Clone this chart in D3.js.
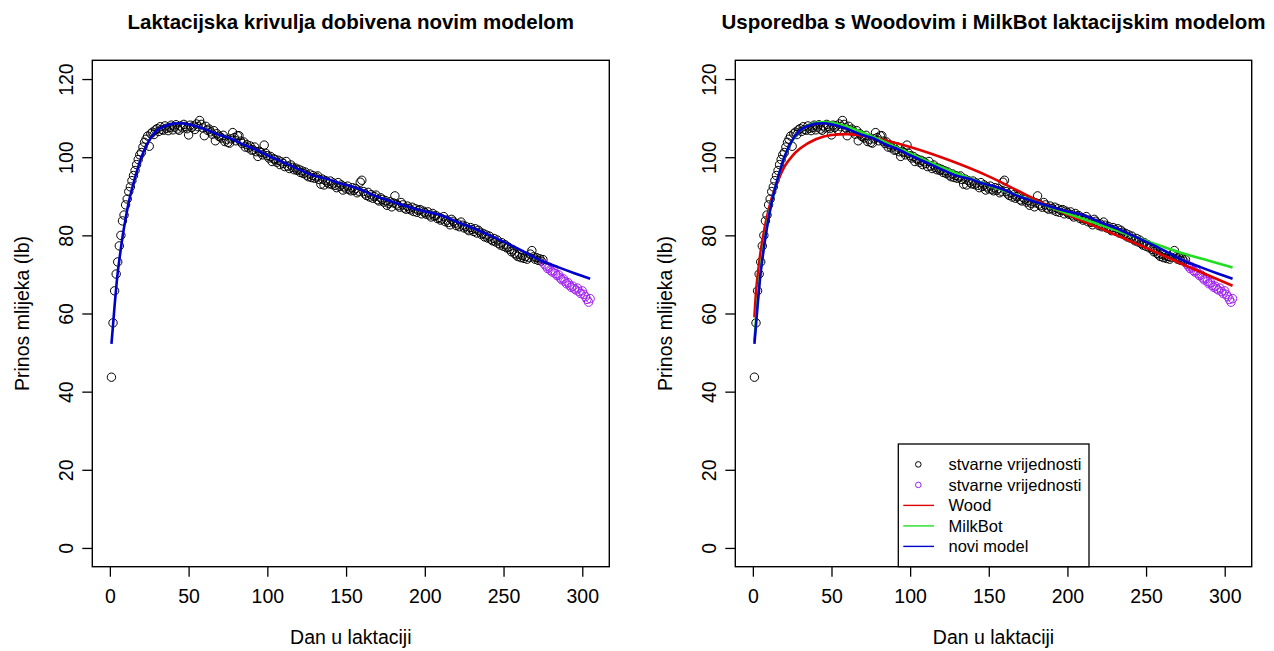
<!DOCTYPE html>
<html><head><meta charset="utf-8">
<script src="https://cdn.jsdelivr.net/npm/d3@7"></script>
<style>body{margin:0;background:#fff}svg{display:block}text{font-family:"Liberation Sans",Arial,sans-serif;fill:#000}</style>
</head><body>
<svg id="c" width="1274" height="651"></svg>
<script>
// ---------- DATA ----------
const titles = ["Laktacijska krivulja dobivena novim modelom", "Usporedba s Woodovim i MilkBot laktacijskim modelom"];
const xLabel = "Dan u laktaciji";
const yLabel = "Prinos mlijeka (lb)";
const xTicks = [0, 50, 100, 150, 200, 250, 300];
const yTicks = [0, 20, 40, 60, 80, 100, 120];
// observed daily yields (days 1..275) - black points
const obsBlack = [
 43.7,57.6,65.8,70.1,73.2,77.3,80.0,83.7,85.2,87.8,
 89.3,91.2,92.4,94.0,95.3,96.6,98.1,99.4,100.6,101.2,
 102.6,103.8,104.6,105.4,102.8,106.0,106.4,105.8,107.0,107.3,
 106.6,107.8,107.1,106.9,108.0,107.4,106.8,107.6,108.2,107.0,
 107.7,108.3,107.2,106.9,108.0,107.5,108.4,107.9,107.3,105.7,
 108.2,107.6,108.0,107.1,108.5,107.8,109.4,108.4,107.5,105.5,
 107.9,106.9,107.2,106.5,105.9,106.8,104.2,106.0,105.4,105.2,
 104.9,105.6,104.0,104.6,103.8,103.6,104.7,106.3,105.0,104.2,
 105.5,105.5,104.1,103.5,103.9,102.6,103.2,102.4,102.9,101.8,
 101.9,102.6,101.4,100.2,101.5,101.2,100.6,103.1,101.0,100.4,
 99.8,100.2,98.9,99.6,99.4,98.7,99.2,98.1,98.8,98.4,
 97.6,98.9,97.7,97.1,98.0,97.4,96.8,97.2,96.6,96.9,
 96.1,96.5,95.8,96.2,95.4,95.0,95.7,94.8,95.3,94.6,
 94.9,95.2,94.3,93.1,94.4,92.9,94.0,93.6,93.2,93.9,
 93.0,93.4,92.8,92.2,93.5,92.5,92.9,91.6,92.4,91.9,
 92.6,91.8,91.4,92.2,91.5,92.0,90.9,91.3,93.6,94.1,
 91.2,90.6,90.2,91.0,89.8,90.4,89.5,89.9,90.3,89.1,
 88.8,89.6,89.2,88.5,88.9,87.7,88.2,88.6,87.3,88.3,
 90.1,88.0,87.6,87.2,88.4,87.8,87.0,86.7,87.5,86.9,
 86.5,87.2,86.1,86.8,85.9,86.4,86.6,85.5,86.2,85.8,
 85.4,86.0,85.2,84.7,85.6,84.9,85.1,84.3,84.6,83.9,
 84.2,84.8,83.5,83.9,83.3,82.7,84.1,83.6,83.1,82.5,
 82.9,82.2,83.4,82.6,81.9,82.3,81.6,81.2,82.0,81.5,
 81.0,81.7,80.6,81.3,80.8,80.2,80.5,79.6,80.1,79.3,
 79.8,79.0,78.6,79.2,78.3,78.8,77.9,77.5,78.1,77.2,
 77.6,76.8,77.0,76.4,75.8,76.3,75.4,75.0,74.6,75.2,
 74.3,74.8,74.1,74.6,73.9,74.4,75.2,76.1,74.5,73.9,
 74.3,73.6,74.0,73.4,73.8];
// observed daily yields (days 276..305) - purple points
const obsPurpleStart = 276;
const obsPurple = [72.6,72.1,71.5,71.9,71.0,70.6,70.9,70.2,69.7,69.9,
 69.1,68.6,68.9,68.2,67.6,67.9,67.2,66.7,67.0,66.3,
 66.0,66.5,65.6,65.1,65.8,64.9,64.3,63.6,62.9,63.8];
// model curves (read at selected days)
const novDays = [1,2,3,4,5,6,8,10,12,15,18,20,25,30,35,40,45,50,55,60,70,76,85,93,100,110,120,127,140,146,152,160,167,175,188,200,210,220,231,240,252,262,273,285,295,305];
const novVals = [52.2,57,62,66.5,70.5,73.7,79.5,84.3,88.5,93.3,97.5,100,104.3,106.9,108,108.6,108.7,108.4,107.9,107.2,105.6,104.9,103.2,101.9,100.5,98.7,96.9,95.6,94.2,93.3,92.7,91.6,90.3,89.2,87.5,86.1,85.2,83.5,81.8,80.2,78,76,73.7,71.8,70.3,68.9];
const woodDays = [1,2,3,4,5,6,8,10,12,15,20,25,30,40,50,60,75,100,125,150,175,200,225,250,275,305];
const woodVals = [59,65.5,69.5,73,76,78.5,83,86.5,89.5,93,97.5,100.3,102.2,104.6,105.7,105.9,105.1,102.6,99.2,95.1,90.1,85.3,81.1,76.8,72.3,67.1];
const milkDays = [1,2,3,5,8,10,15,20,25,30,35,40,45,50,60,70,80,90,100,125,150,175,200,225,250,260,275,290,305];
const milkVals = [53,58.5,63,71.5,80,84.8,93.2,99.9,104.2,106.8,108.1,108.8,109.0,108.8,107.8,106.3,104.6,102.8,101,96.6,92.8,89.3,85.6,82.1,78.6,77.2,75.2,73.5,71.8];
const legendLabels = ["stvarne vrijednosti","stvarne vrijednosti","Wood","MilkBot","novi model"];
const colors = {obs:"#000000", tail:"#A020F0", wood:"#E00000", milk:"#22DD22", nov:"#0000CD"};

// ---------- DRAW ----------
(function(){
const svg = d3.select("#c");
const pTop = 60.3, pBottom = 566.7;
const panels = [{l:92.3, r:609.3}, {l:735.3, r:1251.7}];
const xDom = [-11.16, 317.16], yDom = [-4.8, 124.8];
const fAxis = 19.5;

panels.forEach((p, i) => {
  const x = d3.scaleLinear().domain(xDom).range([p.l, p.r]);
  const y = d3.scaleLinear().domain(yDom).range([pBottom, pTop]);
  const g = svg.append("g");

  const ax = g.append("g").attr("transform", `translate(0,${pBottom})`)
    .call(d3.axisBottom(x).tickValues(xTicks).tickSize(10).tickPadding(12).tickSizeOuter(0));
  ax.select(".domain").remove();
  ax.selectAll("line").attr("stroke","#000").attr("stroke-width",1.3);
  ax.selectAll("text").attr("font-size",fAxis).attr("fill","#000").attr("font-family","Liberation Sans, Arial");
  const ay = g.append("g").attr("transform", `translate(${p.l},0)`)
    .call(d3.axisLeft(y).tickValues(yTicks).tickSize(10).tickSizeOuter(0));
  ay.select(".domain").remove();
  ay.selectAll("line").attr("stroke","#000").attr("stroke-width",1.3);
  ay.selectAll("text").attr("font-size",fAxis).attr("fill","#000").attr("font-family","Liberation Sans, Arial")
    .attr("x",0).attr("dy",null).attr("text-anchor","middle").attr("dominant-baseline","central")
    .attr("transform","translate(-26,0) rotate(-90)");

  g.append("rect").attr("x",p.l).attr("y",pTop).attr("width",p.r-p.l).attr("height",pBottom-pTop)
    .attr("fill","none").attr("stroke","#000").attr("stroke-width",1.4);

  g.append("text").attr("x",(p.l+p.r)/2).attr("y",21).attr("text-anchor","middle").attr("dominant-baseline","central")
    .attr("font-weight","bold").attr("font-size",20.5).text(titles[i]);
  g.append("text").attr("x",(p.l+p.r)/2).attr("y",637).attr("text-anchor","middle").attr("dominant-baseline","central")
    .attr("font-size",fAxis).text(xLabel);
  g.append("text").attr("transform",`translate(${p.l-70},${(pTop+pBottom)/2}) rotate(-90)`)
    .attr("text-anchor","middle").attr("dominant-baseline","central").attr("font-size",fAxis).text(yLabel);

  g.append("g").selectAll("circle").data(obsBlack).join("circle")
    .attr("cx",(d,k)=>x(k+1)).attr("cy",d=>y(d)).attr("r",4.2)
    .attr("fill","none").attr("stroke",colors.obs).attr("stroke-width",1);
  g.append("g").selectAll("circle").data(obsPurple).join("circle")
    .attr("cx",(d,k)=>x(obsPurpleStart+k)).attr("cy",d=>y(d)).attr("r",4.2)
    .attr("fill","none").attr("stroke",colors.tail).attr("stroke-width",1);

  const line = d3.line().x(d=>x(d[0])).y(d=>y(d[1])).curve(d3.curveMonotoneX);
  const draw = (days, vals, col) => g.append("path").datum(days.map((d,k)=>[d,vals[k]]))
    .attr("d",line).attr("fill","none").attr("stroke",col).attr("stroke-width",2.6);
  if (i === 1) {
    draw(woodDays, woodVals, colors.wood);
    draw(milkDays, milkVals, colors.milk);
  }
  draw(novDays, novVals, colors.nov);

  if (i === 1) {
    const lx0 = 898.3, lx1 = 1089, ly0 = 444, ly1 = pBottom;
    const lg = g.append("g");
    lg.append("rect").attr("x",lx0).attr("y",ly0).attr("width",lx1-lx0).attr("height",ly1-ly0)
      .attr("fill","#fff").attr("stroke","#000").attr("stroke-width",1.3);
    const rowY = k => 464.4 + k*20.5;
    const kinds = [["pt",colors.obs],["pt",colors.tail],["ln",colors.wood],["ln",colors.milk],["ln",colors.nov]];
    kinds.forEach((kd,k)=>{
      if (kd[0]==="pt") lg.append("circle").attr("cx",918.3).attr("cy",rowY(k)).attr("r",2.8)
        .attr("fill","none").attr("stroke",kd[1]).attr("stroke-width",1);
      else lg.append("line").attr("x1",903.3).attr("x2",934).attr("y1",rowY(k)).attr("y2",rowY(k))
        .attr("stroke",kd[1]).attr("stroke-width",1.4);
      lg.append("text").attr("x",948.5).attr("y",rowY(k)).attr("dominant-baseline","central")
        .attr("font-size",16.5).text(legendLabels[k]);
    });
  }
});
})();
</script>
</body></html>
